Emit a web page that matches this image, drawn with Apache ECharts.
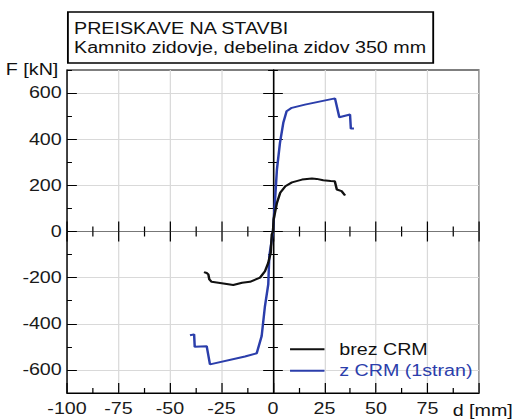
<!DOCTYPE html>
<html>
<head>
<meta charset="utf-8">
<script src="https://cdn.jsdelivr.net/npm/echarts@6/dist/echarts.min.js"></script>
<style>
  html, body { margin: 0; padding: 0; background: #fff; }
  #wrap { width: 513px; height: 419px; overflow: hidden; position: relative; }
  #chart { width: 417px; height: 419px; transform: scaleX(1.23); transform-origin: 0 0; }
</style>
</head>
<body>
<div id="wrap"><div id="chart"></div></div>
<script>
// ---- data ----
const titleLines = ['PREISKAVE NA STAVBI', 'Kamnito zidovje, debelina zidov 350 mm'];
const xAxisTitle = 'd [mm]';
const yAxisTitle = 'F [kN]';
const seriesNames = ['brez CRM', 'z CRM (1stran)'];

const brezX = [-33.5, -32.2, -31.4, -30.9, -29.8, -24.1, -19.3, -15, -11.2, -6.3, -3.9, -2.3, -1.1, -0.6, 0, 0.3, 1.9, 3.5, 6, 9.2, 14.1, 18.9, 21.2, 24.4, 28, 30, 31, 33.3, 35];
const brezY = [-176, -180, -186, -208, -218, -225, -232, -222, -218, -200, -172, -136, -92, -13, 0, 52, 124, 168, 196, 213, 225, 230, 228, 222, 219, 218, 182, 175, 156];

const crmX = [-40.3, -38.3, -38, -32.2, -30.6, -13.6, -7.9, -5.5, -3.9, -2.3, -1.8, 0, 0.8, 1.9, 3.4, 5, 6.6, 9.1, 15.5, 30.1, 32.2, 37.4, 37.8, 39.3];
const crmY = [-450, -446, -500, -497, -576, -542, -528, -453, -323, -229, -107, 0, 110, 268, 385, 471, 521, 536, 550, 577, 495, 507, 446, 446];

const xMin = -100, xMax = 100, xStep = 25;
const yMin = -700, yMax = 700, yStep = 100;
const yMajorTicks = [-600, -400, -200, 0, 200, 400, 600];
const yMinorTicks = [-700, -500, -300, -100, 100, 300, 500, 700];

// ---- layout / style ----
const FONT = "'Liberation Sans', Arial, sans-serif";
const BLUE = '#2b3eab';
const BLACK = '#111111';
const GRID = { left: 54.5, right: 27.6, top: 70, bottom: 26 };

function zip(a, b) { return a.map((v, i) => [v, b[i]]); }
function grid(show) {
  return Object.assign({ containLabel: false, outerBoundsMode: 'none', show: !!show,
    borderColor: '#000', borderWidth: 1, backgroundColor: 'transparent' }, GRID);
}
function hiddenX(g) {
  return { type: 'value', gridIndex: g, min: xMin, max: xMax, interval: xStep, show: false };
}
function centerX(g, inside, showLine) {
  return { type: 'value', gridIndex: g, min: xMin, max: xMax, interval: xStep,
    axisLine: { show: showLine, onZero: true, lineStyle: { color: '#777', width: 1 } },
    axisTick: { show: true, inside: inside, length: 10, lineStyle: { color: '#000', width: 1 } },
    minorTick: { show: true, splitNumber: 2, length: 5, lineStyle: { color: '#000', width: 1 } },
    axisLabel: { show: false }, splitLine: { show: false } };
}
function centerY(g, inside, len, ticks, showLine) {
  return { type: 'value', gridIndex: g, min: yMin, max: yMax, interval: yStep,
    axisLine: { show: showLine, onZero: true, lineStyle: { color: '#000', width: 1.3 } },
    axisTick: { show: true, inside: inside, length: len, customValues: ticks, lineStyle: { color: '#000', width: 1 } },
    axisLabel: { show: false }, splitLine: { show: false } };
}

const chart = echarts.init(document.getElementById('chart'), null, { renderer: 'svg' });
chart.setOption({
  animation: false,
  backgroundColor: '#fff',
  title: {
    text: titleLines.join('\n'),
    left: 54.5, top: 12,
    padding: [7, 6, 6, 5.7],
    borderColor: '#000', borderWidth: 1.5,
    textStyle: { fontFamily: FONT, fontSize: 16, fontWeight: 'normal', color: BLACK, lineHeight: 19 }
  },
  legend: {
    orient: 'vertical', left: 235.8, top: 341.3, padding: 0,
    icon: 'rect', itemWidth: 28, itemHeight: 2, itemGap: 5.4,
    textStyle: { fontFamily: FONT, fontSize: 16, lineHeight: 16, padding: [0, 0, 0, 7] },
    data: [
      { name: seriesNames[0], textStyle: { color: BLACK } },
      { name: seriesNames[1], textStyle: { color: BLUE } }
    ]
  },
  grid: [grid(true), grid(), grid(), grid(), grid(), grid()],
  xAxis: [
    { type: 'value', gridIndex: 0, position: 'bottom', min: xMin, max: xMax, interval: xStep,
      axisLine: { onZero: false, lineStyle: { color: '#000', width: 1 } },
      axisTick: { inside: true, length: 10, lineStyle: { color: '#000' } },
      minorTick: { show: true, splitNumber: 2, length: 5, lineStyle: { color: '#000' } },
      axisLabel: { margin: 8, fontFamily: FONT, fontSize: 16, color: '#1a1a1a',
        formatter: v => (v === xMax ? '' : String(v)) },
      splitLine: { show: true, lineStyle: { color: '#d9d9d9', width: 1 } } },
    centerX(1, true, true),
    centerX(2, false, false),
    hiddenX(3), hiddenX(4), hiddenX(5)
  ],
  yAxis: [
    { type: 'value', gridIndex: 0, position: 'left', min: yMin, max: yMax, interval: yStep,
      axisLine: { onZero: false, lineStyle: { color: '#000', width: 1 } },
      axisTick: { inside: true, length: 8, customValues: yMajorTicks, lineStyle: { color: '#000' } },
      axisLabel: { margin: 4.3, fontFamily: FONT, fontSize: 16, color: '#1a1a1a', customValues: yMajorTicks },
      splitLine: { show: true, lineStyle: { color: '#d9d9d9', width: 1 } } },
    centerY(1, true, 8, yMajorTicks, true),
    centerY(2, false, 8, yMajorTicks, false),
    centerY(3, true, 4, yMinorTicks, false),
    centerY(4, false, 4, yMinorTicks, false),
    { type: 'value', gridIndex: 5, position: 'left', min: yMin, max: yMax, interval: yStep,
      axisLine: { show: false, onZero: false },
      axisTick: { inside: true, length: 4, customValues: yMinorTicks, lineStyle: { color: '#000' } },
      axisLabel: { show: false }, splitLine: { show: false } }
  ],
  graphic: [
    { type: 'text', x: 47.4, y: 69.5,
      style: { text: yAxisTitle, fontFamily: FONT, fontSize: 16, fill: BLACK, align: 'right', verticalAlign: 'middle' } },
    { type: 'text', x: 368, y: 411,
      style: { text: xAxisTitle, fontFamily: FONT, fontSize: 16, fill: BLACK, align: 'left', verticalAlign: 'middle' } }
  ],
  series: [
    { type: 'line', name: seriesNames[1], xAxisIndex: 0, yAxisIndex: 0, data: zip(crmX, crmY),
      symbol: 'none', lineStyle: { color: BLUE, width: 2 }, itemStyle: { color: BLUE }, z: 3 },
    { type: 'line', name: seriesNames[0], xAxisIndex: 0, yAxisIndex: 0, data: zip(brezX, brezY),
      symbol: 'none', lineStyle: { color: BLACK, width: 2 }, itemStyle: { color: BLACK }, z: 4 }
  ]
});
</script>
</body>
</html>
